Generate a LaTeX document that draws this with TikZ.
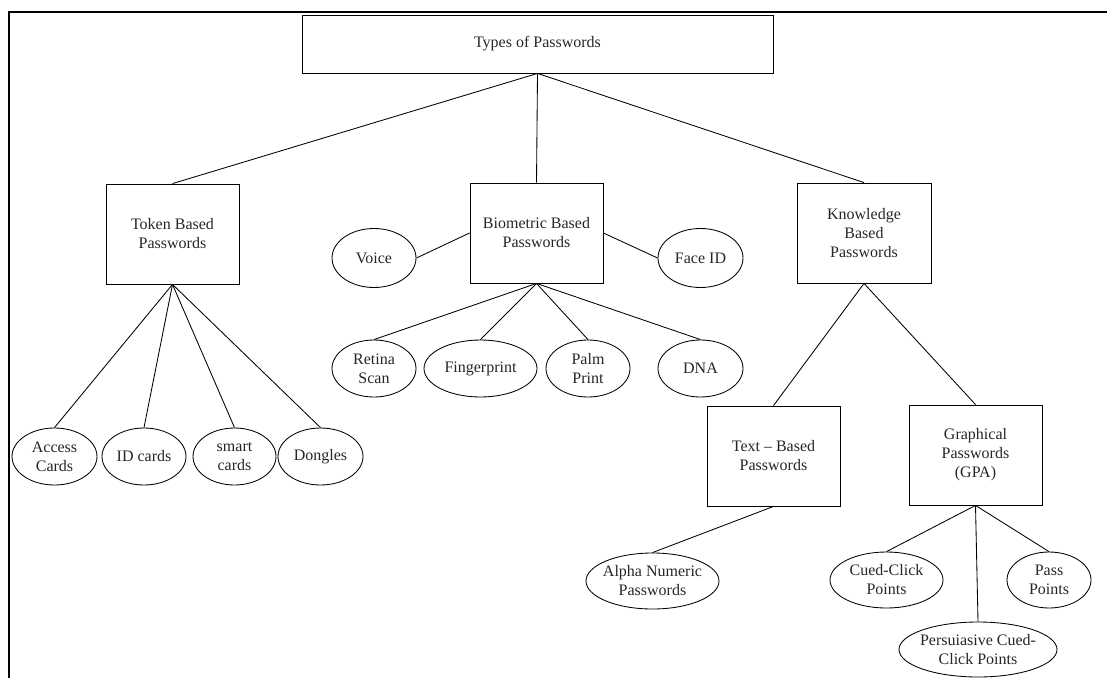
\documentclass[tikz,border=0pt]{standalone}
\usepackage{fontspec}
\setmainfont{Liberation Serif}
\usetikzlibrary{shapes.geometric}
\begin{document}
\begin{tikzpicture}[x=1pt,y=-1pt,
  every node/.style={font=\fontsize{16}{19}\selectfont, align=center, text=black!85},
  box/.style={draw, line width=0.85pt, rectangle, inner sep=0pt, minimum width=133pt, minimum height=100pt},
  oval/.style={draw, line width=0.85pt, ellipse, inner xsep=-8pt, inner ysep=0pt, minimum width=84pt, minimum height=57pt},
  link/.style={line width=0.85pt}]
\useasboundingbox (0,0) rectangle (1107,677);
\draw[line width=2pt] (1107,12) -- (9,12) -- (9,678);

% boxes
\node[box, minimum width=471pt, minimum height=58pt] (top) at (537.5,44) {Types of Passwords};
\node[box] (tok) at (172.5,234) {Token Based\\Passwords};
\node[box] (bio) at (536.5,233) {Biometric Based\\Passwords};
\node[box, minimum width=134pt] (kno) at (864,233) {Knowledge\\Based\\Passwords};
\node[box] (txt) at (773.5,456) {Text – Based\\Passwords};
\node[box] (gpa) at (975.5,455) {Graphical\\Passwords\\(GPA)};

% biometric ellipses
\node[oval, minimum height=59pt] (voice) at (374,258) {Voice};
\node[oval, minimum width=85pt, minimum height=59pt] (face) at (700.5,258) {Face ID};
\node[oval] (retina) at (374,368.5) {Retina\\Scan};
\node[oval, minimum width=113pt] (finger) at (480.5,368.5) {Fingerprint};
\node[oval] (palm) at (588,368.5) {Palm\\Print};
\node[oval, minimum width=85pt] (dna) at (700.5,368.5) {DNA};

% token ellipses
\node[oval, minimum width=85pt] (access) at (54.5,456.5) {Access\\Cards};
\node[oval] (idc) at (144,456.5) {ID cards};
\node[oval, minimum width=83pt] (smart) at (234.5,456.5) {smart\\cards};
\node[oval, minimum width=85pt] (dong) at (320.5,456.5) {Dongles};

% knowledge ellipses
\node[oval, minimum width=133pt, minimum height=56pt] (alpha) at (652.5,581) {Alpha Numeric\\Passwords};
\node[oval, minimum width=113pt, minimum height=56pt] (cued) at (886.5,580) {Cued-Click\\Points};
\node[oval, minimum height=56pt] (pass) at (1049,580) {Pass\\Points};
\node[oval, minimum width=158pt, minimum height=55pt] (pers) at (978,649.5) {Persuiasive Cued-\\Click Points};

% connectors
\draw[link] (top.south) -- (tok.north);
\draw[link] (top.south) -- (bio.north);
\draw[link] (top.south) -- (kno.north);

\draw[link] (tok.south) -- (access.north);
\draw[link] (tok.south) -- (idc.north);
\draw[link] (tok.south) -- (smart.north);
\draw[link] (tok.south) -- (dong.north);

\draw[link] (bio.west) -- (voice.east);
\draw[link] (bio.east) -- (face.west);
\draw[link] (bio.south) -- (retina.north);
\draw[link] (bio.south) -- (finger.north);
\draw[link] (bio.south) -- (palm.north);
\draw[link] (bio.south) -- (dna.north);

\draw[link] (kno.south) -- (txt.north);
\draw[link] (kno.south) -- (gpa.north);

\draw[link] (txt.south) -- (alpha.north);
\draw[link] (gpa.south) -- (cued.north);
\draw[link] (gpa.south) -- (pers.north);
\draw[link] (gpa.south) -- (pass.north);
\end{tikzpicture}
\end{document}
